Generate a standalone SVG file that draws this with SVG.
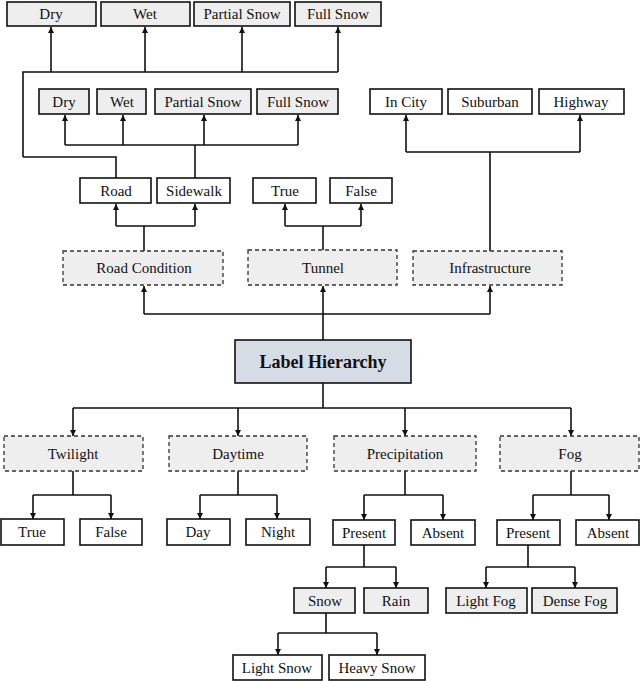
<svg xmlns="http://www.w3.org/2000/svg" width="640" height="681" viewBox="0 0 640 681" font-family="'Liberation Serif', 'Times New Roman', 'DejaVu Serif', serif">
<style>
text{font-family:"Liberation Serif","Times New Roman","DejaVu Serif",serif;font-size:15px;text-anchor:middle;dominant-baseline:central;fill:#111}
.w{fill:#fff;stroke:#111;stroke-width:1.6}
.g{fill:#eeeeee;stroke:#111;stroke-width:1.6}
.d{fill:#eeeeee;stroke:#333;stroke-width:1.3;stroke-dasharray:4,3}
.c path{fill:none;stroke:#111;stroke-width:1.6}
</style>
<defs><marker id="a" viewBox="0 0 6 6" refX="6" refY="3" markerWidth="4" markerHeight="4" orient="auto"><path d="M0,0L6,3L0,6z" fill="#111"/></marker></defs>
<g class="c">
<path d="M23,157V72H338M116,178V157H23"/>
<path d="M51,72V27" marker-end="url(#a)"/><path d="M145,72V27" marker-end="url(#a)"/><path d="M242,72V27" marker-end="url(#a)"/><path d="M338,72V27" marker-end="url(#a)"/>
<path d="M195,178V145M65,145H298"/>
<path d="M65,145V115" marker-end="url(#a)"/><path d="M123,145V115" marker-end="url(#a)"/><path d="M204,145V115" marker-end="url(#a)"/><path d="M298,145V115" marker-end="url(#a)"/>
<path d="M490,251V152M406,152H580"/>
<path d="M406,152V115" marker-end="url(#a)"/><path d="M580,152V115" marker-end="url(#a)"/>
<path d="M144,251V226M116,226H195M323,250V226M285,226H361"/>
<path d="M116,226V204" marker-end="url(#a)"/><path d="M195,226V204" marker-end="url(#a)"/><path d="M285,226V204" marker-end="url(#a)"/><path d="M361,226V204" marker-end="url(#a)"/>
<path d="M323,340V314M144,314H490"/>
<path d="M144,314V286" marker-end="url(#a)"/><path d="M323,314V286" marker-end="url(#a)"/><path d="M490,314V286" marker-end="url(#a)"/>
<path d="M323,383V408M73,408H571"/>
<path d="M73,408V436" marker-end="url(#a)"/><path d="M238,408V436" marker-end="url(#a)"/><path d="M405,408V436" marker-end="url(#a)"/><path d="M571,408V436" marker-end="url(#a)"/>
<path d="M73,471V495M33,495H111M238,471V495M200,495H277M405,471V495M364,495H443M571,471V495M533,495H609"/>
<path d="M33,495V519" marker-end="url(#a)"/><path d="M111,495V519" marker-end="url(#a)"/><path d="M200,495V519" marker-end="url(#a)"/><path d="M277,495V519" marker-end="url(#a)"/><path d="M364,495V520" marker-end="url(#a)"/><path d="M443,495V520" marker-end="url(#a)"/><path d="M533,495V520" marker-end="url(#a)"/><path d="M609,495V520" marker-end="url(#a)"/>
<path d="M364,545V567M326,567H396M528,545V567M486,567H575"/>
<path d="M326,567V588" marker-end="url(#a)"/><path d="M396,567V588" marker-end="url(#a)"/><path d="M486,567V588" marker-end="url(#a)"/><path d="M575,567V588" marker-end="url(#a)"/>
<path d="M326,613V633M278,633H377"/>
<path d="M278,633V655" marker-end="url(#a)"/><path d="M377,633V655" marker-end="url(#a)"/>
</g>
<g id="dry1"><rect class="g" x="7" y="2" width="89" height="24"/><text x="51" y="14">Dry</text></g>
<g id="wet1"><rect class="g" x="101" y="2" width="89" height="24"/><text x="145" y="14">Wet</text></g>
<g id="ps1"><rect class="g" x="194" y="2" width="96" height="24"/><text x="242" y="14">Partial Snow</text></g>
<g id="fs1"><rect class="g" x="295" y="2" width="86" height="24"/><text x="338" y="14">Full Snow</text></g>
<g id="dry2"><rect class="g" x="39" y="89" width="50" height="25"/><text x="64" y="102">Dry</text></g>
<g id="wet2"><rect class="g" x="97" y="89" width="49" height="25"/><text x="122" y="102">Wet</text></g>
<g id="ps2"><rect class="g" x="155" y="89" width="96" height="25"/><text x="203" y="102">Partial Snow</text></g>
<g id="fs2"><rect class="g" x="257" y="89" width="81" height="25"/><text x="298" y="102">Full Snow</text></g>
<g id="incity"><rect class="w" x="370" y="89" width="72" height="25"/><text x="406" y="102">In City</text></g>
<g id="suburban"><rect class="w" x="448" y="89" width="84" height="25"/><text x="490" y="102">Suburban</text></g>
<g id="highway"><rect class="w" x="539" y="89" width="85" height="25"/><text x="581" y="102">Highway</text></g>
<g id="road"><rect class="w" x="80" y="178" width="71" height="25"/><text x="116" y="191">Road</text></g>
<g id="sidewalk"><rect class="w" x="157" y="178" width="73" height="25"/><text x="194" y="191">Sidewalk</text></g>
<g id="ttrue"><rect class="w" x="253" y="178" width="63" height="25"/><text x="285" y="191">True</text></g>
<g id="tfalse"><rect class="w" x="330" y="178" width="62" height="25"/><text x="361" y="191">False</text></g>
<g id="roadcond"><rect class="d" x="63" y="251" width="160" height="34"/><text x="144" y="268">Road Condition</text></g>
<g id="tunnel"><rect class="d" x="248" y="250" width="149" height="35"/><text x="323" y="268">Tunnel</text></g>
<g id="infra"><rect class="d" x="413" y="251" width="149" height="34"/><text x="490" y="268">Infrastructure</text></g>
<g id="root"><rect x="235" y="340" width="176" height="43" fill="#d6dce5" stroke="#111" stroke-width="1.6"/><text x="323" y="362" style="font-size:18px;font-weight:bold">Label Hierarchy</text></g>
<g id="twilight"><rect class="d" x="4" y="436" width="139" height="35"/><text x="73" y="454">Twilight</text></g>
<g id="daytime"><rect class="d" x="169" y="436" width="138" height="35"/><text x="238" y="454">Daytime</text></g>
<g id="precip"><rect class="d" x="334" y="436" width="142" height="35"/><text x="405" y="454">Precipitation</text></g>
<g id="fog"><rect class="d" x="500" y="436" width="139" height="35"/><text x="570" y="454">Fog</text></g>
<g id="twtrue"><rect class="w" x="1" y="519" width="63" height="26"/><text x="32" y="532">True</text></g>
<g id="twfalse"><rect class="w" x="80" y="519" width="62" height="26"/><text x="111" y="532">False</text></g>
<g id="day"><rect class="w" x="167" y="519" width="63" height="26"/><text x="198" y="532">Day</text></g>
<g id="night"><rect class="w" x="246" y="519" width="64" height="26"/><text x="278" y="532">Night</text></g>
<g id="ppresent"><rect class="w" x="333" y="520" width="62" height="25"/><text x="364" y="533">Present</text></g>
<g id="pabsent"><rect class="w" x="411" y="520" width="64" height="25"/><text x="443" y="533">Absent</text></g>
<g id="fpresent"><rect class="w" x="497" y="520" width="63" height="25"/><text x="528" y="533">Present</text></g>
<g id="fabsent"><rect class="w" x="576" y="520" width="63" height="25"/><text x="608" y="533">Absent</text></g>
<g id="snow"><rect class="g" x="294" y="588" width="61" height="25"/><text x="325" y="601">Snow</text></g>
<g id="rain"><rect class="g" x="364" y="588" width="64" height="25"/><text x="396" y="601">Rain</text></g>
<g id="lightfog"><rect class="g" x="446" y="588" width="81" height="25"/><text x="486" y="601">Light Fog</text></g>
<g id="densefog"><rect class="g" x="532" y="588" width="85" height="25"/><text x="575" y="601">Dense Fog</text></g>
<g id="lightsnow"><rect class="w" x="233" y="655" width="89" height="25"/><text x="277" y="668">Light Snow</text></g>
<g id="heavysnow"><rect class="w" x="329" y="655" width="96" height="25"/><text x="377" y="668">Heavy Snow</text></g>
</svg>
